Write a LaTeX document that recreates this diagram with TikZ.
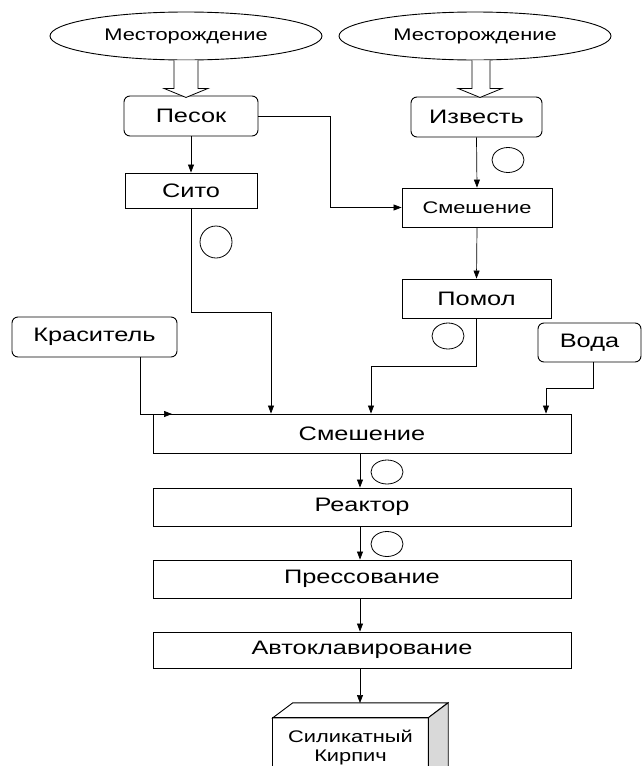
\documentclass[tikz,border=0pt]{standalone}
\usepackage{fontspec}
\setmainfont{Liberation Sans}[FakeStretch=1.3]
\usetikzlibrary{shapes.geometric,arrows.meta}
\begin{document}
\begin{tikzpicture}[x=1pt,y=-1pt,
  box/.style={draw,line width=0.9pt,inner sep=0pt,font=\fontsize{19.5}{22}\selectfont},
  rbox/.style={box,rounded corners=6pt},
  oval/.style={draw,ellipse,line width=0.9pt,inner sep=0pt,minimum width=272pt,minimum height=48pt,font=\fontsize{16.8}{19}\selectfont},
  ringmark/.style={draw,ellipse,line width=0.8pt,inner sep=0pt,minimum width=32pt,minimum height=25pt},
  conn/.style={line width=0.7pt,-{Triangle[length=8pt,width=6pt]}},
  hollow/.style={draw,line width=0.8pt,fill=white}]
\useasboundingbox (0,0) rectangle (644,766);
\clip (0,0) rectangle (644,766);
\fill[white] (0,0) rectangle (644,766);

% sources
\node[oval] (m1) at (186,36) {Месторождение};
\node[oval] (m2) at (475,36) {Месторождение};

\node[rbox,minimum width=134pt,minimum height=40pt] (pesok) at (191,116) {Песок};
\node[rbox,minimum width=131pt,minimum height=40pt] (izv) at (476.5,117) {Известь};
\node[box,minimum width=132pt,minimum height=35pt] (sito) at (191,190.5) {Сито};
\node[box,minimum width=150pt,minimum height=39pt,font=\fontsize{16.8}{19}\selectfont] (sm1) at (477,207.5) {Смешение};
\node[box,minimum width=149pt,minimum height=39pt] (pomol) at (476.5,298.5) {Помол};
\node[rbox,minimum width=165pt,minimum height=40pt] (kras) at (94.5,337) {Краситель};
\node[rbox,minimum width=103pt,minimum height=39pt] (voda) at (589.5,342.5) {Вода};
\node[box,minimum width=418pt,minimum height=39pt] (sm2) at (362,433.5) {Смешение};
\node[box,minimum width=418pt,minimum height=38pt] (reak) at (362,507) {Реактор};
\node[box,minimum width=418pt,minimum height=38pt] (press) at (362,579) {Прессование};
\node[box,minimum width=418pt,minimum height=36pt] (auto) at (362,650) {Автоклавирование};

% hollow arrows
\draw[hollow] (m1.south) ++(-12,0) -- ++(0,28) -- ++(-10,0) -- ++(22,9) -- ++(22,-9) -- ++(-10,0) -- ++(0,-28);
\draw[hollow] ([xshift=6pt]m2.south) ++(-9,0) -- ++(0,28) -- ++(-14,0) -- ++(22,9) -- ++(22,-9) -- ++(-12,0) -- ++(0,-28);

% marks
\node[ringmark,minimum height=32pt] (c1) at (216,242) {};
\node[ringmark] (c2) at (508,160) {};
\node[ringmark,minimum height=26pt] (c3) at (448,336) {};
\node[ringmark,minimum height=24pt] (c4) at (387,472) {};
\node[ringmark] (c5) at (387,544) {};

% brick
\node[minimum width=155pt,minimum height=67pt,inner sep=0pt] (brick) at (350.5,751.5) {};
\draw[line width=0.9pt] (brick.north west) -- ++(20,-15) -- ++(155,0) -- (brick.north east) -- cycle;
\draw[line width=0.9pt,fill=gray!30] (brick.north east) -- ++(20,-15) -- ++(0,67) -- (brick.south east) -- cycle;
\draw[line width=0.9pt] (brick.north west) rectangle (brick.south east);
\node[font=\fontsize{16.8}{19}\selectfont,align=center,inner sep=0pt] (bricktxt) at (350.5,747) {Силикатный\\Кирпич};
\coordinate (btop) at (360,703);

% connectors
\draw[conn] (pesok.south) -- (sito.north);
\draw[conn] (pesok.east) -- ++(72,0) |- (sm1.west);
\draw[conn] (izv.south) -- (sm1.north);
\draw[conn] (sm1.south) -- (pomol.north);
\coordinate (j1) at (271,312);
\draw[conn] (sito.south) |- (j1) -- (j1 |- sm2.north);
\coordinate (j2) at (371,366);
\draw[conn] (pomol.south) |- (j2) -- (j2 |- sm2.north);
\coordinate (j3) at (546,388);
\draw[conn] ([xshift=3.5pt]voda.south) |- (j3) -- (j3 |- sm2.north);
\coordinate (j4) at (172,414);
\draw[conn] ([xshift=45.5pt]kras.south) |- (j4);
\draw[conn] ([xshift=-2pt]sm2.south) -- ([xshift=-2pt]reak.north);
\draw[conn] ([xshift=-2pt]reak.south) -- ([xshift=-2pt]press.north);
\draw[conn] ([xshift=-2pt]press.south) -- ([xshift=-2pt]auto.north);
\draw[conn] (auto.south -| btop) -- (btop);
\end{tikzpicture}
\end{document}
